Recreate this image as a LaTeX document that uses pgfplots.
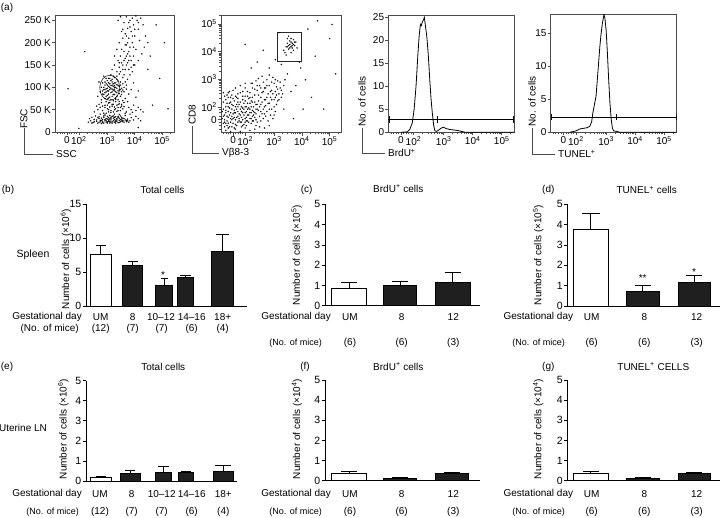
\documentclass[border=0pt]{standalone}
\usepackage{fontspec}
\setmainfont{Liberation Sans}
\usepackage{pgfplots}
\pgfplotsset{compat=1.18}
\definecolor{axgray}{gray}{0.3}
\pgfplotsset{
  flow/.style={scale only axis, anchor=south west, xmin=0, xmax=100,
    tick pos=left, tick align=outside,
    axis line style={axgray, line width=0.6pt},
    major tick length=3pt, minor tick length=1.8pt,
    every tick/.style={axgray, line width=0.5pt},
    tick label style={font=\fontsize{10}{11}\selectfont, inner sep=1pt},
    /pgf/number format/assume math mode=true},
  logx/.style={xtick={10,20,44,67,90},
    xticklabels={0,10\textsuperscript{2},10\textsuperscript{3},10\textsuperscript{4},10\textsuperscript{5}},
    minor xtick={2,4,6,8,12,14,16,18,27.2,31.5,34.4,36.8,38.7,40.3,41.7,42.9,50.9,55.0,57.8,60.1,61.9,63.4,64.8,65.9,73.9,78.0,80.8,83.1,84.9,86.4,87.8,88.9,96.9}},
  barax/.style={scale only axis, anchor=south west, ymin=0,
    axis x line*=bottom, axis y line*=left, xtick=\empty,
    tick align=outside, major tick length=3pt,
    axis line style={black, line width=0.7pt},
    every tick/.style={black, line width=0.7pt},
    y tick label style={font=\fontsize{10.5}{12}\selectfont, inner sep=1.5pt},
    /pgf/number format/assume math mode=true, clip=false},
  wbar/.style={ybar, bar shift=0pt, fill=white, draw=black, line width=0.7pt},
  kbar/.style={ybar, bar shift=0pt, fill=black!88, draw=black, line width=0.7pt},
  eb/.style={error bars/.cd, y dir=plus, y explicit, error mark=-,
    error bar style={line width=0.8pt, black},
    error mark options={rotate=90, line width=0.8pt, black, mark size=#1}},
  scat/.style={only marks, mark=*, mark size=0.55pt, black, opacity=0.8}
}
\newcommand{\ft}{\fontsize{10}{12}\selectfont}
\newcommand{\fs}{\fontsize{9}{11}\selectfont}
\newcommand{\fy}{\fontsize{10}{12}\selectfont}
\begin{document}
\begin{tikzpicture}[x=1pt,y=1pt]
\useasboundingbox (0,0) rectangle (720,517);

% ---------------- (a) ----------------
\node[font=\ft] at (7,509.5) {(a)};

% plot 1 FSC/SSC
\begin{axis}[flow, logx, at={(55pt,385pt)}, width=119pt, height=117pt,
  ymin=0, ymax=262, ytick={0,50,100,150,200,250},
  yticklabels={0,50 K,100 K,150 K,200 K,250 K}]
\addplot[scat] coordinates {
(28,22)(30,25)(32,21)(33,28)(35,24)(36,20)(37,30)(38,23)(39,26)(40,21)(41,33)(42,25)(43,22)(44,29)(45,24)(46,20)(47,27)(48,23)(49,31)(50,22)(51,26)(52,24)(53,35)(54,21)(55,28)(56,25)(57,23)(58,30)(60,26)(62,22)(64,32)(66,27)(34,36)(38,40)(42,38)(46,37)(50,40)(54,39)(31,33)(29,30)(45,32)(48,35)(52,30)(40,28)(36,32)(47,22)(44,20)(39,19)(51,20)(56,33)(59,37)(61,29)(63,40)(68,35)(70,30)(72,25)
(31,20)(33,23)(35,27)(37,21)(38,26)(40,24)(41,20)(42,28)(43,25)(44,23)(45,27)(46,24)(47,31)(48,20)(49,25)(50,28)(51,23)(52,27)(53,21)(54,26)(55,23)(56,29)(57,26)(58,22)(59,27)(60,23)(61,25)(63,25)(37,34)(41,36)(44,35)(47,33)(49,36)(51,34)(53,32)(55,36)(57,31)(43,30)(39,31)(46,29)(50,33)(54,31)
(33,45)(36,50)(38,55)(40,48)(42,60)(44,52)(45,65)(47,44)(48,58)(49,62)(50,50)(51,68)(52,46)(53,55)(54,63)(55,48)(56,58)(57,52)(58,66)(60,45)(62,55)(64,50)(66,60)(68,48)(70,55)(39,66)(41,42)(37,62)(46,56)(43,68)(35,58)(61,68)(59,42)(65,44)(72,50)(74,45)
(43,42)(45,45)(47,48)(49,45)(51,52)(53,48)(55,55)(50,56)(48,62)(46,66)(52,60)(54,68)(47,72)(49,70)(51,73)(44,60)(42,55)(56,62)(57,70)(58,57)(45,50)(40,58)(44,74)(53,62)
(36,80)(38,90)(39,100)(40,85)(40,110)(41,95)(42,75)(42,105)(43,90)(43,120)(44,98)(44,82)(45,110)(45,92)(46,100)(46,78)(47,88)(47,115)(48,96)(48,105)(49,84)(49,125)(50,92)(50,110)(51,100)(51,76)(52,118)(52,88)(53,104)(54,94)(54,130)(55,80)(55,112)(56,98)(57,122)(58,90)(60,105)(62,85)(61,118)(64,95)(66,110)(37,112)(39,72)(41,125)(53,72)(47,128)(44,105)(45,85)(46,120)(48,80)(50,100)(51,90)(49,102)(43,97)(42,88)(57,108)(59,75)(63,128)(68,78)(70,92)
(41,100)(42,95)(43,108)(44,92)(45,102)(46,95)(46,108)(47,98)(47,104)(48,90)(48,112)(49,94)(49,108)(50,96)(50,104)(51,110)(52,98)(52,106)(53,92)(53,114)(54,102)(55,95)(55,105)(56,90)(44,115)(45,120)(48,118)(50,122)(52,125)(42,112)(40,92)(41,84)(43,80)(45,76)(50,84)(52,80)(54,86)(56,84)(58,100)(57,94)(59,112)(60,96)
(48,140)(50,150)(52,135)(53,160)(54,145)(55,170)(56,155)(57,140)(58,180)(59,165)(60,150)(60,195)(61,175)(62,210)(62,160)(63,190)(64,225)(64,145)(65,200)(66,240)(66,170)(67,215)(68,185)(69,250)(70,230)(71,205)(72,255)(58,245)(60,258)(63,250)(56,225)(54,200)(52,185)(50,170)(57,210)(65,135)(67,150)(70,160)(73,175)(75,190)(61,232)(59,220)(53,250)(55,258)(68,260)(74,240)(76,215)(78,200)(80,170)
(55,135)(57,150)(59,140)(61,155)(58,160)(60,170)(62,180)(56,185)(59,195)(61,200)(63,170)(64,160)(62,140)(66,190)(65,215)(63,235)(67,230)(60,215)(57,230)(62,245)(65,255)(70,245)(58,128)(54,155)(66,150)
(11,97)(95,52)(85,240)(20,8)(88,120)(82,60)(78,140)(25,180)(92,200)(70,10)};
\draw[black!85, line width=0.6pt] (axis cs:46,99) ellipse [x radius=10pt, y radius=12.5pt];
\end{axis}
\node[font=\ft, rotate=90] at (24,398) {FSC};
\draw[axgray, line width=0.6pt] (24,389) -- (24,363) -- (53,363);
\node[font=\ft, anchor=west, inner sep=1pt] at (55,363) {SSC};

% plot 2 CD8 / Vb8-3
\begin{axis}[flow, logx, at={(221pt,384.3pt)}, width=120.7pt, height=117.7pt,
  ymin=0, ymax=100, ytick={11,22,45.5,69,92.5},
  yticklabels={0,10\textsuperscript{2},10\textsuperscript{3},10\textsuperscript{4},10\textsuperscript{5}},
  minor ytick={3,6,9,14,17,20,29.1,33.2,36.1,38.4,40.3,41.9,43.2,44.4,52.6,56.7,59.6,61.9,63.8,65.4,66.7,67.9,76.1,80.2,83.1,85.4,87.3,88.9,90.2,91.4,99.6}]
\addplot[scat] coordinates {
(2,8)(3,15)(4,22)(5,10)(6,18)(7,5)(7,25)(8,12)(9,20)(10,8)(10,16)(11,27)(12,11)(12,22)(13,6)(14,18)(14,14)(15,24)(16,9)(16,20)(17,13)(18,28)(18,17)(19,7)(20,22)(20,12)(21,18)(22,25)(22,10)(23,15)(24,20)(25,8)(25,27)(26,14)(27,22)(28,17)(29,11)(30,24)(31,19)(32,14)(4,28)(6,30)(9,32)(3,5)(5,25)(8,26)(11,4)(13,30)(15,16)(17,22)(19,15)(21,6)(23,29)(24,12)(26,19)(28,26)(30,9)(1,18)(2,26)(5,14)(8,17)(10,23)(12,17)(14,9)(16,26)(18,11)(20,17)(22,20)(24,25)(26,10)(3,11)(9,11)(15,12)(27,15)(29,20)(31,27)
(1,12)(2,20)(4,17)(6,13)(7,21)(9,14)(11,19)(13,24)(17,9)(19,25)(21,13)(23,21)(25,17)(27,10)(29,24)(6,8)(11,13)(14,22)(18,21)(20,9)
(2,14)(3,9)(4,19)(5,6)(6,22)(7,15)(8,9)(9,24)(10,12)(11,17)(12,7)(13,20)(14,26)(15,10)(16,15)(17,18)(18,6)(19,20)(20,27)(21,10)(22,15)(23,9)(24,17)(25,22)(26,26)(27,18)(28,13)(29,16)(30,20)(32,22)(33,18)(34,26)(35,20)(36,16)(37,23)(38,30)(39,25)(40,20)(41,35)(42,28)(43,33)(44,22)(45,30)(46,32)(47,37)(48,28)(35,35)(33,38)(31,32)(28,37)(26,30)(24,30)(22,35)(20,31)(18,31)(16,34)(14,29)(12,31)(10,29)(8,30)(7,35)(5,32)(3,31)(2,34)(4,8)(6,4)(9,5)(13,13)(17,5)(21,22)(25,12)(29,6)(33,10)(37,14)(44,15)(38,40)(42,43)(36,38)(30,40)(26,42)(20,42)(45,45)(49,43)(50,36)(51,33)(52,40)(53,45)
(6,34)(10,36)(14,33)(18,35)(20,38)(22,31)(24,34)(26,38)(28,32)(30,36)(32,40)(33,30)(34,34)(35,43)(36,28)(37,38)(38,45)(39,33)(40,40)(41,30)(42,36)(43,47)(44,42)(45,35)(46,39)(47,44)(48,33)(36,22)(38,18)(40,25)(42,20)(44,28)(46,24)(34,16)(33,24)(35,12)(37,28)(39,10)(41,15)(43,12)(45,18)(47,27)(49,38)(50,30)(16,40)(12,38)(25,42)(29,44)(31,46)(40,49)(34,48)
(4,2)(8,1)(12,3)(16,1)(20,4)(24,2)(28,3)(32,5)(36,4)(40,6)
(52,70)(54,73)(55,76)(56,71)(57,75)(57,78)(58,73)(59,76)(60,70)(60,79)(61,74)(62,77)(55,80)(53,68)(58,68)(63,72)(56,82)(54,66)(59,72)(56,74)(58,77)(57,72)(59,74)(55,73)(61,77)(60,75)(58,80)
(30,60)(40,55)(45,62)(65,60)(70,45)(75,30)(62,40)(55,50)(35,70)(20,75)(48,85)(72,88)(80,95)(90,80)(85,20)(68,20)(92,92)(95,50)(78,65)(25,55)(50,58)(66,55)(58,35)(52,20)(60,12)};
\draw[black!85, line width=0.6pt] (axis cs:46.6,60.9) rectangle (axis cs:66.9,85);
\end{axis}
\node[font=\ft, rotate=90] at (192.3,402) {CD8};
\draw[axgray, line width=0.6pt] (192.3,391) -- (192.3,364) -- (219,364);
\node[font=\ft, anchor=west, inner sep=1pt] at (221,364) {Vβ8-3};

% plot 3 BrdU histogram
\begin{axis}[flow, logx, at={(388.3pt,384.7pt)}, width=126pt, height=117.3pt,
  ymin=0, ymax=25.5, ytick={0,5,10,15,20,25}]
\addplot[black, line width=0.8pt] coordinates {
(10,0)(15,0.1)(17,0.6)(19,2)(20.5,5)(22,10)(23.5,17)(24.5,21)(25.5,23.5)(26.3,23.2)(27,24)(28,24.5)(28.6,25)(29.5,23)(30.5,21)(31.7,17)(33,11)(34,7)(35,4)(36,1.5)(37,0.3)(38.5,0.2)(40,0.5)(42,0.9)(43.7,1.1)(46,0.8)(49,0.6)(52,0.5)(55,0.4)(58,0.2)(61,0)(100,0)};
\addplot[black, line width=0.7pt] coordinates {(0,2.8)(100,2.8)};
\addplot[black, line width=0.7pt] coordinates {(0.6,2.1)(0.6,3.5)};
\addplot[black, line width=0.7pt] coordinates {(38.9,2.1)(38.9,3.5)};
\addplot[black, line width=0.7pt] coordinates {(99.4,2.1)(99.4,3.5)};
\end{axis}
\node[font=\ft, rotate=90] at (362,415.7) {No. of cells};
\draw[axgray, line width=0.6pt] (362,389) -- (362,364) -- (385,364);
\node[font=\ft, anchor=west, inner sep=1pt] at (387,364) {BrdU\textsuperscript{+}};

% plot 4 TUNEL histogram
\begin{axis}[flow, logx, at={(550.7pt,384.7pt)}, width=126pt, height=118pt,
  ymin=0, ymax=17.9, ytick={0,5,10,15}]
\addplot[black, line width=0.8pt] coordinates {
(15,0)(20,0.2)(23,0.5)(26,0.6)(29,0.7)(31,0.9)(32.5,1.6)(33.5,3)(35,4.5)(36,5.5)(37,8)(38,10.5)(39,13)(40,15)(41,16.5)(42.3,17.9)(43,17.3)(44,15.5)(45,12)(46,8)(47,4.5)(48,2)(49,0.6)(50,0.2)(52,0.15)(55,0)(100,0)};
\addplot[black, line width=0.7pt] coordinates {(0,2.3)(100,2.3)};
\addplot[black, line width=0.7pt] coordinates {(0.6,1.8)(0.6,2.8)};
\addplot[black, line width=0.7pt] coordinates {(52.4,1.8)(52.4,2.8)};
\addplot[black, line width=0.7pt] coordinates {(99.4,1.8)(99.4,2.8)};
\end{axis}
\node[font=\ft, rotate=90] at (532,415.7) {No. of cells};
\draw[axgray, line width=0.6pt] (532,389) -- (532,363) -- (555,363);
\node[font=\ft, anchor=west, inner sep=1pt] at (557,363) {TUNEL\textsuperscript{+}};

% ---------------- (b) ----------------
\begin{axis}[barax, at={(86pt,211pt)}, width=160.7pt, height=101.7pt,
  xmin=86, xmax=246.7, ymax=15, ytick={0,5,10,15}]
\addplot[wbar, bar width=21, eb=5pt] coordinates {(100.5,7.65) +- (0,1.35)};
\addplot[kbar, bar width=20, eb=5pt] coordinates {(132.7,6.0) +- (0,0.6)};
\addplot[kbar, bar width=16.5, eb=3.5pt] coordinates {(164,3.1) +- (0,0.9)};
\addplot[kbar, bar width=16, eb=5.5pt] coordinates {(185.3,4.2) +- (0,0.25)};
\addplot[kbar, bar width=21.7, eb=6.5pt] coordinates {(222.5,8.1) +- (0,2.4)};
\node[font=\ft, anchor=base, yshift=-6pt] at (axis cs:163,4.95) {*};
\end{axis}
\node[font=\ft] at (8,327) {(b)};
\node[font=\ft] at (162.5,327) {Total cells};
\node[font=\fontsize{10.5}{12}\selectfont] at (33,262) {Spleen};
\node[font=\fy, rotate=90] at (66,258) {Number of cells (×10\textsuperscript{6})};
\node[font=\ft, anchor=east, inner sep=0pt] at (82,200.3) {Gestational day};
\node[font=\ft] at (100.7,200.3) {UM};
\node[font=\ft] at (132.7,200.3) {8};
\node[font=\ft] at (161,200.3) {10–12};
\node[font=\ft] at (191.7,200.3) {14–16};
\node[font=\ft] at (222.7,200.3) {18+};
\node[font=\ft, anchor=east, inner sep=0pt] at (79,188) {(No. of mice)};
\node[font=\ft] at (100.7,188) {(12)};
\node[font=\ft] at (132.7,188) {(7)};
\node[font=\ft] at (161.7,188) {(7)};
\node[font=\ft] at (191.7,188) {(6)};
\node[font=\ft] at (222.7,188) {(4)};

% ---------------- (c) ----------------
\begin{axis}[barax, at={(325pt,211.3pt)}, width=155pt, height=101.4pt,
  xmin=325, xmax=480, ymax=5, ytick={0,1,2,3,4,5}]
\addplot[wbar, bar width=35, eb=8pt] coordinates {(349.2,0.86) +- (0,0.27)};
\addplot[kbar, bar width=33.3, eb=8pt] coordinates {(400,1.02) +- (0,0.2)};
\addplot[kbar, bar width=35, eb=8pt] coordinates {(452.5,1.15) +- (0,0.48)};
\end{axis}
\node[font=\ft] at (306.7,327) {(c)};
\node[font=\ft] at (398.3,328.3) {BrdU\textsuperscript{+} cells};
\node[font=\fy, rotate=90] at (296.7,262) {Number of cells (×10\textsuperscript{5})};
\node[font=\ft, anchor=east, inner sep=0pt] at (331,200.3) {Gestational day};
\node[font=\ft] at (350,200.3) {UM};
\node[font=\ft] at (401.7,200.3) {8};
\node[font=\ft] at (453.3,200.3) {12};
\node[font=\fs, anchor=east, inner sep=0pt] at (322,173.7) {(No. of mice)};
\node[font=\ft] at (350,173.7) {(6)};
\node[font=\ft] at (401.7,173.7) {(6)};
\node[font=\ft] at (453.3,173.7) {(3)};

% ---------------- (d) ----------------
\begin{axis}[barax, at={(567.3pt,211pt)}, width=152.7pt, height=101.7pt,
  xmin=567.3, xmax=720, ymax=5, ytick={0,1,2,3,4,5}]
\addplot[wbar, bar width=35, eb=9pt] coordinates {(590.8,3.77) +- (0,0.79)};
\addplot[kbar, bar width=33.3, eb=8pt] coordinates {(642.7,0.70) +- (0,0.33)};
\addplot[kbar, bar width=32, eb=8pt] coordinates {(694,1.16) +- (0,0.36)};
\node[font=\ft, anchor=base, yshift=-6pt] at (axis cs:642.7,1.52) {**};
\node[font=\ft, anchor=base, yshift=-6pt] at (axis cs:694,1.77) {*};
\end{axis}
\node[font=\ft] at (548.3,327) {(d)};
\node[font=\ft] at (646.7,327) {TUNEL\textsuperscript{+} cells};
\node[font=\fy, rotate=90] at (538.3,262) {Number of cells (×10\textsuperscript{5})};
\node[font=\ft, anchor=east, inner sep=0pt] at (573.3,200.3) {Gestational day};
\node[font=\ft] at (591.7,200.3) {UM};
\node[font=\ft] at (644.3,200.3) {8};
\node[font=\ft] at (696.7,200.3) {12};
\node[font=\fs, anchor=east, inner sep=0pt] at (565,173.7) {(No. of mice)};
\node[font=\ft] at (591.7,173.7) {(6)};
\node[font=\ft] at (644.3,173.7) {(6)};
\node[font=\ft] at (696.7,173.7) {(3)};

% ---------------- (e) ----------------
\begin{axis}[barax, at={(86pt,36pt)}, width=151.3pt, height=100.3pt,
  xmin=86, xmax=237.3, ymax=5, ytick={0,1,2,3,4,5}]
\addplot[wbar, bar width=21, eb=5pt] coordinates {(100.5,0.17) +- (0,0.08)};
\addplot[kbar, bar width=20.7, eb=5pt] coordinates {(130.3,0.38) +- (0,0.13)};
\addplot[kbar, bar width=16.7, eb=5.8pt] coordinates {(163.3,0.43) +- (0,0.32)};
\addplot[kbar, bar width=15, eb=5pt] coordinates {(185.8,0.43) +- (0,0.07)};
\addplot[kbar, bar width=20, eb=8pt] coordinates {(223.3,0.48) +- (0,0.30)};
\end{axis}
\node[font=\ft] at (7,150.3) {(e)};
\node[font=\ft] at (163.3,150.3) {Total cells};
\node[font=\ft] at (23,88.7) {Uterine LN};
\node[font=\fy, rotate=90] at (63.3,88) {Number of cells (×10\textsuperscript{6})};
\node[font=\ft, anchor=east, inner sep=0pt] at (82,23) {Gestational day};
\node[font=\ft] at (100,23) {UM};
\node[font=\ft] at (131.7,23) {8};
\node[font=\ft] at (161.7,23) {10–12};
\node[font=\ft] at (191.7,23) {14–16};
\node[font=\ft] at (223.3,23) {18+};
\node[font=\fs, anchor=east, inner sep=0pt] at (79,5.3) {(No. of mice)};
\node[font=\ft] at (100,5.3) {(12)};
\node[font=\ft] at (131.7,5.3) {(7)};
\node[font=\ft] at (161.7,5.3) {(7)};
\node[font=\ft] at (191.7,5.3) {(6)};
\node[font=\ft] at (223.3,5.3) {(4)};

% ---------------- (f) ----------------
\begin{axis}[barax, at={(325pt,36.3pt)}, width=155pt, height=100.7pt,
  xmin=325, xmax=480, ymax=5, ytick={0,1,2,3,4,5}]
\addplot[wbar, bar width=35, eb=8pt] coordinates {(349.2,0.36) +- (0,0.09)};
\addplot[kbar, bar width=33.3, eb=8pt] coordinates {(400,0.12) +- (0,0.06)};
\addplot[kbar, bar width=33.3, eb=8pt] coordinates {(451.7,0.36) +- (0,0.05)};
\end{axis}
\node[font=\ft] at (305,150.3) {(f)};
\node[font=\ft] at (398.3,150.3) {BrdU\textsuperscript{+} cells};
\node[font=\fy, rotate=90] at (297,88) {Number of cells (×10\textsuperscript{4})};
\node[font=\ft, anchor=east, inner sep=0pt] at (331,23) {Gestational day};
\node[font=\ft] at (350,23) {UM};
\node[font=\ft] at (401.7,23) {8};
\node[font=\ft] at (453.3,23) {12};
\node[font=\fs, anchor=east, inner sep=0pt] at (322,5.3) {(No. of mice)};
\node[font=\ft] at (350,5.3) {(6)};
\node[font=\ft] at (401.7,5.3) {(6)};
\node[font=\ft] at (453.3,5.3) {(3)};

% ---------------- (g) ----------------
\begin{axis}[barax, at={(567.3pt,36.3pt)}, width=152.7pt, height=100.7pt,
  xmin=567.3, xmax=720, ymax=5, ytick={0,1,2,3,4,5}]
\addplot[wbar, bar width=35, eb=8pt] coordinates {(590.8,0.36) +- (0,0.10)};
\addplot[kbar, bar width=33.3, eb=8pt] coordinates {(642.7,0.12) +- (0,0.06)};
\addplot[kbar, bar width=32, eb=8pt] coordinates {(694,0.36) +- (0,0.05)};
\end{axis}
\node[font=\ft] at (548.3,150.3) {(g)};
\node[font=\ft] at (653.3,150.3) {TUNEL\textsuperscript{+} CELLS};
\node[font=\fy, rotate=90] at (538.3,88) {Number of cells (×10\textsuperscript{4})};
\node[font=\ft, anchor=east, inner sep=0pt] at (573.3,23) {Gestational day};
\node[font=\ft] at (591.7,23) {UM};
\node[font=\ft] at (644.3,23) {8};
\node[font=\ft] at (696.7,23) {12};
\node[font=\fs, anchor=east, inner sep=0pt] at (565,5.3) {(No. of mice)};
\node[font=\ft] at (591.7,5.3) {(6)};
\node[font=\ft] at (644.3,5.3) {(6)};
\node[font=\ft] at (696.7,5.3) {(3)};
\end{tikzpicture}
\end{document}
